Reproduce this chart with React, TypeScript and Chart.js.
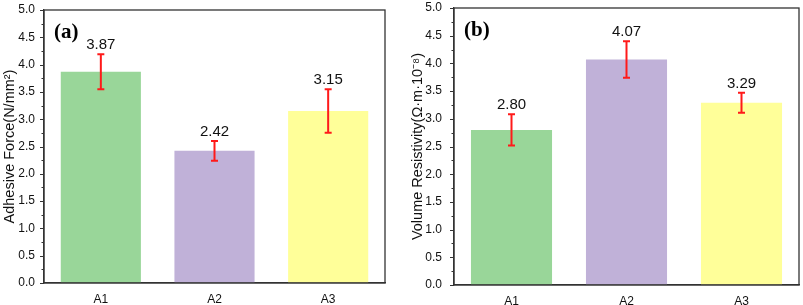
import React, { useEffect, useRef } from "react";
import { Chart, registerables } from "chart.js";

Chart.register(...registerables);

const categories = ["A1", "A2", "A3"];
const adhesiveForce = [3.87, 2.42, 3.15];
const adhesiveErr = [0.32, 0.18, 0.4];
const resistivity = [2.8, 4.07, 3.29];
const resistivityErr = [0.28, 0.33, 0.18];
const valueLabelsA = ["3.87", "2.42", "3.15"];
const valueLabelsB = ["2.80", "4.07", "3.29"];
const barColors = ["rgb(153,214,153)", "rgb(192,177,216)", "rgb(255,255,153)"];
const yTicks = [0, 0.5, 1, 1.5, 2, 2.5, 3, 3.5, 4, 4.5, 5];
const yMinorTicks = [0.25, 0.75, 1.25, 1.75, 2.25, 2.75, 3.25, 3.75, 4.25, 4.75];

type PanelCfg = {
  values: number[];
  errors: number[];
  labels: string[];
  panel: string;
  yTitle: string;
  yWidth: number;
  xHeight: number;
  padRight: number;
  padTop: number;
  titlePad: number;
  labelGap: number;
};

function makeChart(canvas: HTMLCanvasElement, cfg: PanelCfg) {
  const overlay = {
    id: "overlay",
    afterDraw(chart: any) {
      const ctx = chart.ctx;
      const area = chart.chartArea;
      const xs = chart.scales.x;
      const ys = chart.scales.y;
      ctx.save();
      // frame
      ctx.strokeStyle = "#333";
      ctx.lineWidth = 1.3;
      ctx.strokeRect(area.left, area.top, area.right - area.left, area.bottom - area.top);
      // major and minor ticks on the y axis
      ctx.lineWidth = 1;
      const tick = (v: number, len: number) => {
        const y = Math.round(ys.getPixelForValue(v)) + 0.5;
        ctx.beginPath();
        ctx.moveTo(area.left - len, y);
        ctx.lineTo(area.left, y);
        ctx.stroke();
      };
      yTicks.forEach((v) => tick(v, 4));
      yMinorTicks.forEach((v) => tick(v, 2.5));
      // error bars + value labels
      cfg.values.forEach((v, i) => {
        const x = xs.getPixelForValue(i);
        const yt = ys.getPixelForValue(v + cfg.errors[i]);
        const yb = ys.getPixelForValue(v - cfg.errors[i]);
        ctx.strokeStyle = "#ff1a1a";
        ctx.lineWidth = 2;
        ctx.beginPath();
        ctx.moveTo(x, yt);
        ctx.lineTo(x, yb);
        ctx.moveTo(x - 3.5, yt);
        ctx.lineTo(x + 3.5, yt);
        ctx.moveTo(x - 3.5, yb);
        ctx.lineTo(x + 3.5, yb);
        ctx.stroke();
        ctx.fillStyle = "#111";
        ctx.font = "15px 'Liberation Sans', Arial, sans-serif";
        ctx.textAlign = "center";
        ctx.textBaseline = "alphabetic";
        ctx.fillText(cfg.labels[i], x, yt - 5);
      });
      // panel label
      ctx.fillStyle = "#000";
      ctx.font = "bold 21px 'Liberation Serif', 'Times New Roman', serif";
      ctx.textAlign = "left";
      ctx.textBaseline = "middle";
      ctx.fillText(cfg.panel, area.left + 10, area.top + 23);
      ctx.restore();
    },
  };

  return new Chart(canvas, {
    type: "bar",
    data: {
      labels: categories,
      datasets: [
        {
          data: cfg.values,
          backgroundColor: barColors,
          borderWidth: 0,
          barPercentage: 0.705,
          categoryPercentage: 1,
        },
      ],
    },
    options: {
      animation: false,
      responsive: false,
      maintainAspectRatio: false,
      layout: { padding: { left: 0, right: cfg.padRight, top: cfg.padTop, bottom: 0 } },
      plugins: { legend: { display: false }, tooltip: { enabled: false } },
      scales: {
        x: {
          grid: { display: false, drawTicks: false },
          border: { display: true, color: "#333", width: 1.3 },
          ticks: {
            color: "#111",
            padding: 9,
            font: { size: 12, family: "'Liberation Sans', Arial, sans-serif" },
          },
          afterFit(scale: any) {
            scale.height = cfg.xHeight;
          },
        },
        y: {
          min: 0,
          max: 5,
          afterBuildTicks(scale: any) {
            scale.ticks = yTicks.map((v) => ({ value: v }));
          },
          grid: {
            display: true,
            drawOnChartArea: false,
            drawTicks: true,
            tickLength: cfg.labelGap,
            color: "rgba(0,0,0,0)",
          },
          border: { display: true, color: "#333", width: 1.3 },
          ticks: {
            color: "#111",
            padding: 0,
            font: { size: 12, family: "'Liberation Sans', Arial, sans-serif" },
            callback: (v: any) => Number(v).toFixed(1),
          },
          title: {
            display: true,
            text: cfg.yTitle,
            color: "#111",
            padding: { top: cfg.titlePad, bottom: 0 },
            font: { size: 14.5, family: "'Liberation Sans', Arial, sans-serif" },
          },
          afterFit(scale: any) {
            scale.width = cfg.yWidth;
          },
        },
      },
    },
    plugins: [overlay],
  } as any);
}

export default function App() {
  const leftRef = useRef<HTMLCanvasElement>(null);
  const rightRef = useRef<HTMLCanvasElement>(null);

  useEffect(() => {
    const c1 = makeChart(leftRef.current!, {
      values: adhesiveForce,
      errors: adhesiveErr,
      labels: valueLabelsA,
      panel: "(a)",
      yTitle: "Adhesive Force(N/mm²)",
      yWidth: 44,
      xHeight: 22,
      padRight: 15,
      padTop: 10,
      titlePad: 1,
      labelGap: 9,
    });
    const c2 = makeChart(rightRef.current!, {
      values: resistivity,
      errors: resistivityErr,
      labels: valueLabelsB,
      panel: "(b)",
      yTitle: "Volume Resistivity(Ω·m·10⁻⁸)",
      yWidth: 54,
      xHeight: 20,
      padRight: 4,
      padTop: 8,
      titlePad: 9,
      labelGap: 12,
    });
    return () => {
      c1.destroy();
      c2.destroy();
    };
  }, []);

  return (
    <div
      style={{
        position: "absolute",
        left: 0,
        top: 0,
        width: 803,
        height: 305,
        background: "#fff",
      }}
    >
      <canvas
        ref={leftRef}
        width={400}
        height={305}
        style={{ position: "absolute", left: 0, top: 0, width: 400, height: 305 }}
      />
      <canvas
        ref={rightRef}
        width={403}
        height={305}
        style={{ position: "absolute", left: 400, top: 0, width: 403, height: 305 }}
      />
    </div>
  );
}
